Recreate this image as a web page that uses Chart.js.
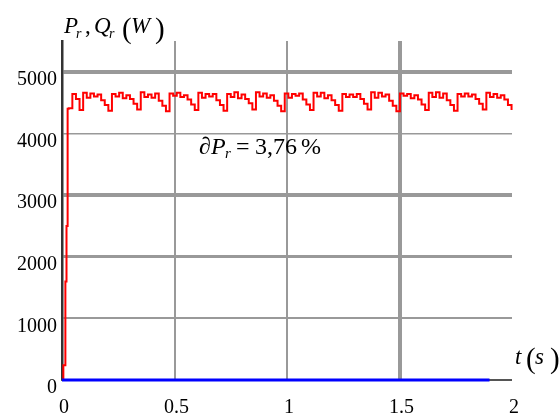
<!DOCTYPE html>
<html>
<head>
<meta charset="utf-8">
<script src="https://cdn.jsdelivr.net/npm/chart.js@4/dist/chart.umd.min.js"></script>
<style>
html,body{margin:0;padding:0;background:#fff;}
#wrap{position:relative;width:559px;height:416px;}
#c{position:absolute;left:0;top:0;}
.lbl{position:absolute;line-height:1;font-family:'Liberation Serif',serif;color:#000;white-space:pre;z-index:2;}
</style>
</head>
<body>
<div id="wrap"><canvas id="c" width="559" height="416"></canvas></div>
<script>
// ---- data ----
const xTicks = [0, 0.5, 1, 1.5, 2];
const yTicks = [0, 1000, 2000, 3000, 4000, 5000];
const xTickLabels = ['0', '0.5', '1', '1.5', '2'];

// start-up of P_r
const startTimes = [0, 0.005, 0.006, 0.013, 0.015, 0.018, 0.020, 0.023, 0.025];
const startValues = [0, 0, 240, 240, 1600, 1600, 2500, 2500, 4400];

// steady-state P_r samples
const prTimes = [
0.030,0.046,0.062,0.078,
0.094,0.110,0.126,0.142,0.158,0.174,0.190,0.206,
0.222,0.238,0.254,0.270,0.286,0.302,0.318,0.334,
0.350,0.366,0.382,0.398,0.414,0.430,0.446,0.462,
0.478,0.494,0.510,0.526,0.542,0.558,0.574,0.590,
0.606,0.622,0.638,0.654,0.670,0.686,0.702,0.718,
0.734,0.750,0.766,0.782,0.798,0.814,0.830,0.846,
0.862,0.878,0.894,0.910,0.926,0.942,0.958,0.974,
0.990,1.006,1.022,1.038,1.054,1.070,1.086,1.102,
1.118,1.134,1.150,1.166,1.182,1.198,1.214,1.230,
1.246,1.262,1.278,1.294,1.310,1.326,1.342,1.358,
1.374,1.390,1.406,1.422,1.438,1.454,1.470,1.486,
1.502,1.518,1.534,1.550,1.566,1.582,1.598,1.614,
1.630,1.646,1.662,1.678,1.694,1.710,1.726,1.742,
1.758,1.774,1.790,1.806,1.822,1.838,1.854,1.870,
1.886,1.902,1.918,1.934,1.950,1.966,1.982,1.998
];
const prValues = [
4410,4640,4560,4380,
4660,4580,4650,4600,4630,4540,4460,4370,
4640,4600,4660,4570,4620,4560,4480,4390,
4670,4590,4630,4580,4650,4530,4450,4360,
4650,4610,4660,4590,4620,4550,4470,4380,
4660,4580,4640,4600,4640,4540,4460,4370,
4640,4590,4670,4570,4630,4560,4490,4390,
4670,4600,4650,4580,4620,4530,4450,4360,
4650,4580,4640,4610,4650,4550,4470,4380,
4660,4600,4660,4570,4620,4540,4460,4370,
4640,4590,4630,4590,4640,4560,4480,4390,
4670,4580,4660,4600,4630,4530,4450,4360,
4650,4610,4640,4570,4620,4550,4470,4380,
4660,4590,4670,4580,4650,4540,4460,4370,
4640,4600,4650,4600,4630,4560,4480,4390,
4660,4590,4640,4580,4620,4550,4460,4380
];

// Q_r
const qrTimes = [0, 1.9];
const qrValues = [0, 0];

// grid line widths per tick
const yGridWidths = {0: 0, 1000: 2, 2000: 3, 3000: 4, 4000: 1.5, 5000: 4};
const xGridWidths = {0: 0, 0.5: 2, 1: 2, 1.5: 4, 2: 0};

// ---- build ----
const prData = startTimes.map((t, i) => ({x: t, y: startValues[i]}))
  .concat(prTimes.map((t, i) => ({x: t, y: prValues[i]})));
const qrData = qrTimes.map((t, i) => ({x: t, y: qrValues[i]}));

const SERIF = "'Liberation Serif'";
Chart.defaults.font.family = SERIF;

// text labels as HTML (baseline-positioned)
const wrap = document.getElementById('wrap');
function put(txt, italic, size, x, baseline) {
  const s = document.createElement('span');
  s.className = 'lbl';
  s.textContent = txt;
  s.style.fontSize = size + 'px';
  s.style.fontStyle = italic ? 'italic' : 'normal';
  s.style.left = x + 'px';
  s.style.top = (baseline - 0.8375 * size) + 'px';
  wrap.appendChild(s);
}
// y-axis title  P_r, Q_r (W)
put('P', true, 23, 64, 33);
put('r', true, 14, 76, 39);
put(',', false, 23, 85, 33);
put('Q', true, 23, 94, 33);
put('r', true, 14, 109, 39);
put('(', false, 29, 122, 38);
put('W', true, 23, 131, 33);
put(')', false, 29, 155, 38);
// x-axis title  t(s)
put('t', true, 23, 515, 364);
put('(', false, 29, 526, 368);
put('s', true, 23, 535, 364);
put(')', false, 29, 550, 368);
// annotation  ∂P_r = 3,76%
put('\u2202', true, 24, 199, 154);
put('P', true, 24, 211, 154);
put('r', true, 15, 225, 159);
put('=', false, 24, 236, 154);
put('3,76', false, 24, 255, 154);
put('%', false, 24, 301, 154);

new Chart(document.getElementById('c'), {
  type: 'scatter',
  data: {
    datasets: [
      {
        label: 'P_r',
        data: prData,
        showLine: true,
        stepped: true,
        borderColor: '#ff0000',
        borderWidth: 2,
        pointRadius: 0,
        fill: false,
        clip: 6,
        order: 2
      },
      {
        label: 'Q_r',
        data: qrData,
        showLine: true,
        borderColor: '#0000ff',
        borderWidth: 3,
        pointRadius: 0,
        fill: false,
        clip: 6,
        order: 1
      }
    ]
  },
  options: {
    responsive: false,
    animation: false,
    devicePixelRatio: 1,
    layout: {padding: {top: 41, right: 47, left: 0, bottom: 0}},
    plugins: {legend: {display: false}, tooltip: {enabled: false}},
    scales: {
      x: {
        type: 'linear',
        min: 0,
        max: 2,
        afterBuildTicks: (s) => { s.ticks = xTicks.map(v => ({value: v})); },
        afterFit: (s) => { s.height = 36; },
        ticks: {
          callback: (v) => xTickLabels[xTicks.indexOf(v)] ?? '',
          font: {family: SERIF, size: 20},
          color: '#000',
          padding: 16,
          labelOffset: 2,
          maxRotation: 0,
          autoSkip: false
        },
        grid: {
          drawTicks: false,
          color: '#999',
          lineWidth: (ctx) => (ctx.tick ? (xGridWidths[ctx.tick.value] ?? 0) : 0)
        },
        border: {display: true, color: '#555', width: 2}
      },
      y: {
        type: 'linear',
        min: 0,
        max: 5500,
        afterBuildTicks: (s) => { s.ticks = yTicks.map(v => ({value: v})); },
        afterFit: (s) => { s.width = 62; },
        ticks: {
          callback: (v) => String(v),
          font: {family: SERIF, size: 20},
          color: '#000',
          padding: 5,
          labelOffset: 8,
          autoSkip: false
        },
        grid: {
          drawTicks: false,
          color: '#999',
          lineWidth: (ctx) => (ctx.tick ? (yGridWidths[ctx.tick.value] ?? 0) : 0)
        },
        border: {display: true, color: '#333', width: 2.5}
      }
    }
  }
});
</script>
</body>
</html>
